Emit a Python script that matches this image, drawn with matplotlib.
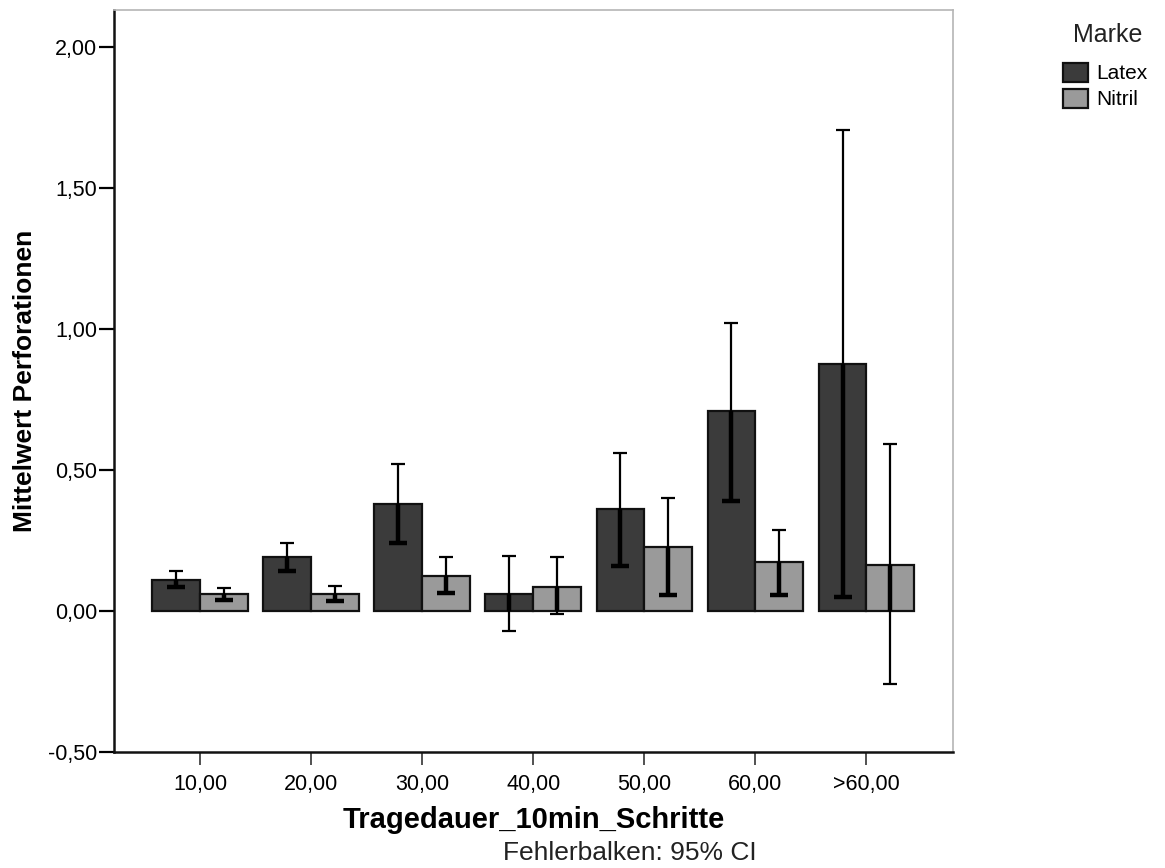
import matplotlib
matplotlib.use("Agg")
import matplotlib.pyplot as plt
import matplotlib.ticker as mticker
from matplotlib.patches import Patch
import numpy as np

plt.rcParams['font.family'] = ['Liberation Sans', 'DejaVu Sans']

categories = ["10,00", "20,00", "30,00", "40,00", "50,00", "60,00", ">60,00"]
latex_mean = [0.11, 0.19, 0.38, 0.06, 0.36, 0.71, 0.875]
latex_lo   = [0.085, 0.14, 0.24, -0.07, 0.16, 0.39, 0.05]
latex_hi   = [0.14, 0.24, 0.52, 0.195, 0.56, 1.02, 1.705]
nitril_mean = [0.06, 0.06, 0.125, 0.085, 0.227, 0.173, 0.163]
nitril_lo   = [0.04, 0.035, 0.065, -0.01, 0.057, 0.057, -0.26]
nitril_hi   = [0.08, 0.09, 0.19, 0.19, 0.40, 0.287, 0.59]
series_names = ["Latex", "Nitril"]
legend_title = "Marke"
yticks = [-0.5, 0.0, 0.5, 1.0, 1.5, 2.0]

dark = "#3b3b3b"
light = "#9a9a9a"

fig = plt.figure(figsize=(11.65, 8.68), dpi=100)
ax = fig.add_axes([114/1165, 1-752/868, (953-114)/1165, (752-10)/868])

x = np.arange(len(categories))
w = 0.43

def draw(xpos, mean, lo, hi, color):
    mean = np.array(mean); lo = np.array(lo); hi = np.array(hi)
    ax.bar(xpos, mean, width=w, color=color, edgecolor="#111111", linewidth=1.6, zorder=2)
    ax.errorbar(xpos, mean, yerr=[mean - lo, hi - mean], fmt='none', ecolor='black',
                elinewidth=1.6, capsize=5, capthick=1.6, zorder=3)
    for xi, m, l, h in zip(xpos, mean, lo, hi):
        b = max(l, 0.0)
        t = min(h, m)
        if t > b:
            ax.vlines(xi, b, t, color='black', linewidth=3.2, zorder=4)
        if l >= 0:
            ax.plot([xi], [l], marker='_', markersize=13, mew=3.2, color='black', zorder=4)

draw(x - w/2, latex_mean, latex_lo, latex_hi, dark)
draw(x + w/2, nitril_mean, nitril_lo, nitril_hi, light)

ax.set_xlim(-0.775, 6.78)
ax.set_ylim(-0.5, 2.13)
ax.set_xticks(x)
ax.set_xticklabels(categories, fontsize=15.5)
ax.set_yticks(yticks)
ax.yaxis.set_major_formatter(mticker.FuncFormatter(lambda v, p: f"{v:.2f}".replace(".", ",")))
ax.tick_params(axis='y', labelsize=15.5, length=11, width=1.6, direction='out', pad=1)
ax.tick_params(axis='x', length=9, width=1.2, direction='out', pad=7, color='#333333')

for s in ['left', 'bottom']:
    ax.spines[s].set_linewidth(1.8)
    ax.spines[s].set_color('#111111')
for s in ['top', 'right']:
    ax.spines[s].set_linewidth(1.2)
    ax.spines[s].set_color('#b5b5b5')

ax.set_ylabel("Mittelwert Perforationen", fontsize=19, fontweight='bold', labelpad=8)
ax.set_xlabel("Tragedauer_10min_Schritte", fontsize=21, fontweight='bold', labelpad=8)
fig.text(630/1165, 1-853/868, "Fehlerbalken: 95% CI", fontsize=19, ha='center', va='center',
         color='#222222')

fig.text(1108/1165, 1-35/868, legend_title, fontsize=18, ha='center', va='center', color='#222222')
handles = [Patch(facecolor=dark, edgecolor='#111111', linewidth=1.6),
           Patch(facecolor=light, edgecolor='#111111', linewidth=1.6)]
leg = fig.legend(handles, series_names, loc='upper left',
                 bbox_to_anchor=(1048/1165, 1-48/868), frameon=False, fontsize=15,
                 handlelength=1.2, handleheight=1.05,
                 handletextpad=0.4, labelspacing=0.25, borderpad=0.2)

fig.savefig("out.png", dpi=100, facecolor='white')
